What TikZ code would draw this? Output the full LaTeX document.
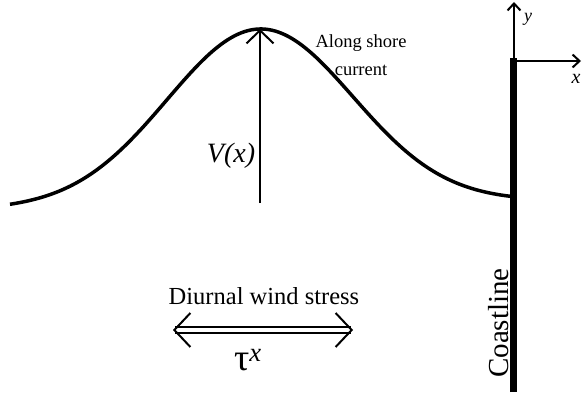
\documentclass[tikz,border=0pt]{standalone}
\usepackage{fontspec}
\setmainfont{Liberation Serif}
\usetikzlibrary{arrows.meta}
\begin{document}
\begin{tikzpicture}[x=1pt,y=1pt]
\useasboundingbox (0,0) rectangle (584,392);
\tikzstyle{labelnode} = [draw=none,inner sep=0pt,align=center]
\tikzstyle{axisline} = [line width=2pt,-{Straight Barb[length=7pt,width=13pt,line width=2pt]}]
%%%%%%%%%%%%%%%%%%%%%%%%%%%%%
% coastline and axes
%%%%%%%%%%%%%%%%%%%%%%%%%%%%%
\coordinate (o) at (513,331);
\coordinate (cb) at (513,0);
\coordinate (ytop) at (514,390);
\coordinate (xend) at (581,331);
\draw [line width=7pt] (cb) -- ([yshift=3pt]o);
\draw [axisline] ([xshift=1pt]o) -- (ytop);
\draw [axisline] (o) -- (xend);
\node (ylab) [labelnode,font=\fontsize{18}{20}\selectfont\itshape] at (528,373){y};
\node (xlab) [labelnode,font=\fontsize{20}{22}\selectfont\itshape] at (576,313){x};
\node (coast) [labelnode,rotate=90,font=\fontsize{29}{32}\selectfont] at (499,69){Coastline};
%%%%%%%%%%%%%%%%%%%%%%%%%%%%%
% along shore current profile
%%%%%%%%%%%%%%%%%%%%%%%%%%%%%
\draw [line width=3.5pt] plot[domain=10:510,samples=150,smooth] (\x,{183+0.016*(\x-10)+176*exp(-((\x-260)/93)^2/2)});
\coordinate (vbot) at (260,189);
\coordinate (vtop) at (260,363);
\draw [line width=2pt,-{Straight Barb[length=13pt,width=27pt,line width=2pt]}] (vbot) -- (vtop);
\node (vlab) [labelnode,font=\fontsize{28}{30}\selectfont\itshape] at (231,236){V(x)};
\node (cur) [labelnode,font=\fontsize{18.5}{28}\selectfont] at (361,337){Along shore\\current};
%%%%%%%%%%%%%%%%%%%%%%%%%%%%%
% wind stress
%%%%%%%%%%%%%%%%%%%%%%%%%%%%%
\node (wind) [labelnode,font=\fontsize{24.5}{26}\selectfont] at (264,96){Diurnal wind stress};
\coordinate (wl) at (173,62);
\coordinate (wr) at (353,62);
\draw [double,double distance=4pt,line width=1.8pt,{Straight Barb[length=16pt,width=34pt,line width=2pt]}-{Straight Barb[length=16pt,width=34pt,line width=2pt]}] (wl) -- (wr);
\node (tau) [labelnode,font=\fontsize{38}{40}\selectfont] at (248,32){τ\textsuperscript{\itshape x}};
\end{tikzpicture}
\end{document}
